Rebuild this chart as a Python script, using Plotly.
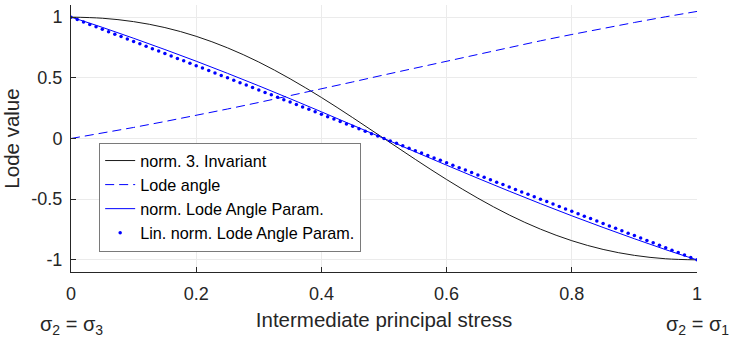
import plotly.graph_objects as go

# Intermediate principal stress, normalised between sigma2 = sigma3 (0) and sigma2 = sigma1 (1)
X = [0.00, 0.05, 0.10, 0.15, 0.20, 0.25, 0.30, 0.35, 0.40, 0.45, 0.50,
     0.55, 0.60, 0.65, 0.70, 0.75, 0.80, 0.85, 0.90, 0.95, 1.00]

# normalised third invariant
J3_NORM = [1.000, 0.991, 0.963, 0.914, 0.842, 0.747, 0.630, 0.492, 0.338, 0.172, 0.000,
           -0.172, -0.338, -0.492, -0.630, -0.747, -0.842, -0.914, -0.963, -0.991, -1.000]

# Lode angle (rad)
LODE_ANGLE = [0.000, 0.044, 0.091, 0.140, 0.190, 0.243, 0.297, 0.352, 0.409, 0.466, 0.524,
              0.581, 0.639, 0.695, 0.751, 0.805, 0.857, 0.908, 0.956, 1.003, 1.047]

# normalised Lode angle parameter
LODE_PARAM = [1.000, 0.916, 0.826, 0.733, 0.637, 0.537, 0.434, 0.328, 0.220, 0.110, 0.000,
              -0.110, -0.220, -0.328, -0.434, -0.537, -0.637, -0.733, -0.826, -0.916, -1.000]

# linearised normalised Lode angle parameter (sampled finely, drawn as dots)
LIN_X = [0.00, 0.01, 0.02, 0.03, 0.04, 0.05, 0.06, 0.07, 0.08, 0.09,
         0.10, 0.11, 0.12, 0.13, 0.14, 0.15, 0.16, 0.17, 0.18, 0.19,
         0.20, 0.21, 0.22, 0.23, 0.24, 0.25, 0.26, 0.27, 0.28, 0.29,
         0.30, 0.31, 0.32, 0.33, 0.34, 0.35, 0.36, 0.37, 0.38, 0.39,
         0.40, 0.41, 0.42, 0.43, 0.44, 0.45, 0.46, 0.47, 0.48, 0.49,
         0.50, 0.51, 0.52, 0.53, 0.54, 0.55, 0.56, 0.57, 0.58, 0.59,
         0.60, 0.61, 0.62, 0.63, 0.64, 0.65, 0.66, 0.67, 0.68, 0.69,
         0.70, 0.71, 0.72, 0.73, 0.74, 0.75, 0.76, 0.77, 0.78, 0.79,
         0.80, 0.81, 0.82, 0.83, 0.84, 0.85, 0.86, 0.87, 0.88, 0.89,
         0.90, 0.91, 0.92, 0.93, 0.94, 0.95, 0.96, 0.97, 0.98, 0.99,
         1.00]
LIN_Y = [1.00, 0.98, 0.96, 0.94, 0.92, 0.90, 0.88, 0.86, 0.84, 0.82,
         0.80, 0.78, 0.76, 0.74, 0.72, 0.70, 0.68, 0.66, 0.64, 0.62,
         0.60, 0.58, 0.56, 0.54, 0.52, 0.50, 0.48, 0.46, 0.44, 0.42,
         0.40, 0.38, 0.36, 0.34, 0.32, 0.30, 0.28, 0.26, 0.24, 0.22,
         0.20, 0.18, 0.16, 0.14, 0.12, 0.10, 0.08, 0.06, 0.04, 0.02,
         0.00, -0.02, -0.04, -0.06, -0.08, -0.10, -0.12, -0.14, -0.16, -0.18,
         -0.20, -0.22, -0.24, -0.26, -0.28, -0.30, -0.32, -0.34, -0.36, -0.38,
         -0.40, -0.42, -0.44, -0.46, -0.48, -0.50, -0.52, -0.54, -0.56, -0.58,
         -0.60, -0.62, -0.64, -0.66, -0.68, -0.70, -0.72, -0.74, -0.76, -0.78,
         -0.80, -0.82, -0.84, -0.86, -0.88, -0.90, -0.92, -0.94, -0.96, -0.98,
         -1.00]

X_TICKS = [0, 0.2, 0.4, 0.6, 0.8, 1]
X_TICK_TEXT = ["0", "0.2", "0.4", "0.6", "0.8", "1"]
Y_TICKS = [-1, -0.5, 0, 0.5, 1]
Y_TICK_TEXT = ["-1", "-0.5", "0", "0.5", "1"]

FONT = "Liberation Sans, Arial, Helvetica, sans-serif"
AXIS_COLOR = "#262626"
GRID_COLOR = "#ebebeb"

fig = go.Figure()
fig.add_trace(go.Scatter(x=X, y=J3_NORM, mode="lines", name="norm. 3. Invariant",
                         line=dict(color="#1a1a1a", width=1, shape="spline")))
fig.add_trace(go.Scatter(x=X, y=LODE_ANGLE, mode="lines", name="Lode angle",
                         line=dict(color="#0000ff", width=1, dash="9px,5px")))
fig.add_trace(go.Scatter(x=X, y=LODE_PARAM, mode="lines", name="norm. Lode Angle Param.",
                         line=dict(color="#0000ff", width=1, shape="spline")))
fig.add_trace(go.Scatter(x=LIN_X, y=LIN_Y, mode="markers", name="Lin. norm. Lode Angle Param.",
                         marker=dict(color="#0000ff", size=3.5, line=dict(width=0))))

axis_common = dict(
    showline=True, linecolor=AXIS_COLOR, linewidth=1, mirror=False,
    ticks="inside", ticklen=5, tickcolor=AXIS_COLOR, tickwidth=1,
    showgrid=True, gridcolor=GRID_COLOR, gridwidth=1,
    zeroline=False, tickfont=dict(family=FONT, size=18, color=AXIS_COLOR),
    automargin=False,
)

fig.update_xaxes(range=[0, 1], tickvals=X_TICKS, ticktext=X_TICK_TEXT,
                 ticklabelstandoff=5,
                 title=dict(text="Intermediate principal stress", standoff=10,
                            font=dict(family=FONT, size=20.5, color=AXIS_COLOR)),
                 **axis_common)
fig.update_yaxes(range=[-1.1, 1.1], tickvals=Y_TICKS, ticktext=Y_TICK_TEXT,
                 ticklabelstandoff=4,
                 title=dict(text="Lode value", standoff=10,
                            font=dict(family=FONT, size=20.5, color=AXIS_COLOR)),
                 **axis_common)

for xv, label in [(0, "σ<sub>2</sub> = σ<sub>3</sub>"), (1, "σ<sub>2</sub> = σ<sub>1</sub>")]:
    fig.add_annotation(x=xv, xref="x", y=-0.2, yref="paper", text=label,
                       showarrow=False, xanchor="center", yanchor="middle",
                       font=dict(family=FONT, size=20, color=AXIS_COLOR))

fig.update_layout(
    width=729, height=337,
    margin=dict(l=71, r=32, t=5, b=65),
    paper_bgcolor="white", plot_bgcolor="white",
    font=dict(family=FONT, color=AXIS_COLOR),
    showlegend=True,
    legend=dict(x=0.045, y=0.485, xanchor="left", yanchor="top",
                bgcolor="white", bordercolor="#7a7a7a", borderwidth=1,
                font=dict(family=FONT, size=16.2, color="#000000"),
                itemwidth=30, tracegroupgap=0),
)

fig.write_html("out.html")
